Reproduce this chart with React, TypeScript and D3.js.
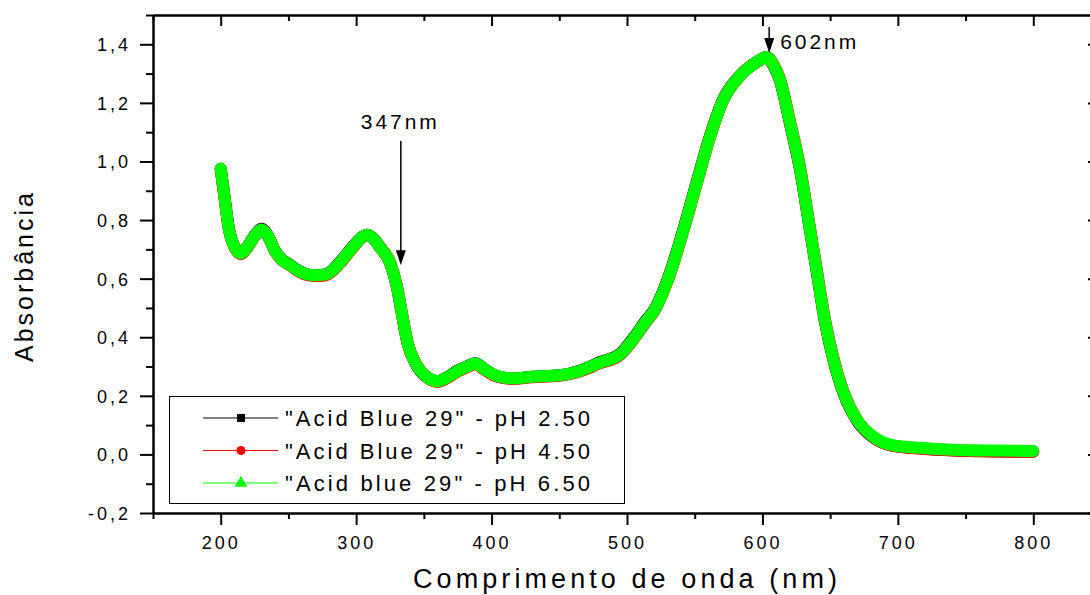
import React, { useEffect, useRef } from "react";
import * as d3 from "d3";

// comprimento de onda (nm)
const wavelengths = [
  200, 203, 206, 210, 215, 220, 225, 230, 235, 240, 245, 250, 258, 265, 270, 277, 283, 290, 298, 304,
  308, 312, 318, 325, 330, 334, 338, 344, 352, 360, 368, 375, 382, 388, 395, 404, 416, 430, 450, 465,
  480, 495, 504, 515, 519, 532, 541, 552, 561, 571, 583, 596, 603, 608, 613, 620, 628, 634, 640, 646,
  652, 660, 670, 682, 696, 718, 740, 770, 800,
];

// pH 2.50
const absBlack = [
  0.975, 0.872, 0.772, 0.711, 0.687, 0.711, 0.747, 0.77, 0.746, 0.696, 0.666, 0.651, 0.626, 0.614, 0.612, 0.614, 0.631, 0.667, 0.712, 0.741,
  0.75, 0.74, 0.705, 0.654, 0.573, 0.473, 0.378, 0.309, 0.264, 0.25, 0.266, 0.286, 0.301, 0.311, 0.29, 0.267, 0.259, 0.265, 0.27, 0.286,
  0.315, 0.344, 0.393, 0.463, 0.486, 0.624, 0.759, 0.939, 1.083, 1.212, 1.291, 1.34, 1.356, 1.328, 1.275, 1.136, 0.966, 0.796, 0.626, 0.456,
  0.33, 0.207, 0.114, 0.057, 0.03, 0.02, 0.014, 0.011, 0.01,
];

// pH 4.50
const absRed = [
  0.974, 0.869, 0.769, 0.709, 0.684, 0.708, 0.744, 0.767, 0.744, 0.694, 0.664, 0.649, 0.623, 0.611, 0.609, 0.611, 0.628, 0.663, 0.708, 0.739,
  0.749, 0.74, 0.705, 0.656, 0.577, 0.477, 0.382, 0.311, 0.264, 0.247, 0.263, 0.283, 0.298, 0.308, 0.288, 0.266, 0.258, 0.263, 0.268, 0.283,
  0.311, 0.34, 0.388, 0.458, 0.481, 0.618, 0.753, 0.933, 1.079, 1.209, 1.29, 1.34, 1.357, 1.332, 1.281, 1.144, 0.975, 0.805, 0.635, 0.465,
  0.336, 0.212, 0.117, 0.059, 0.03, 0.019, 0.013, 0.01, 0.009,
];

// pH 6.50
const absGreen = [
  0.975, 0.87, 0.77, 0.71, 0.686, 0.71, 0.745, 0.768, 0.745, 0.695, 0.665, 0.65, 0.625, 0.614, 0.612, 0.614, 0.63, 0.665, 0.71, 0.74,
  0.75, 0.74, 0.705, 0.655, 0.575, 0.475, 0.38, 0.31, 0.265, 0.25, 0.265, 0.285, 0.3, 0.31, 0.29, 0.268, 0.26, 0.265, 0.27, 0.285,
  0.313, 0.342, 0.39, 0.46, 0.483, 0.62, 0.755, 0.935, 1.08, 1.21, 1.29, 1.34, 1.357, 1.33, 1.278, 1.14, 0.97, 0.8, 0.63, 0.46,
  0.333, 0.21, 0.117, 0.06, 0.032, 0.022, 0.016, 0.013, 0.012,
];

const seriesNames = ['"Acid Blue 29" - pH 2.50', '"Acid Blue 29" - pH 4.50', '"Acid blue 29" - pH 6.50'];
const seriesColors = ["#000000", "#ff0000", "#00ff00"];
const seriesSymbols = [d3.symbolSquare, d3.symbolCircle, d3.symbolTriangle];

const xMajor = [200, 300, 400, 500, 600, 700, 800];
const xMinor = [150, 250, 350, 450, 550, 650, 750, 850];
const yMajor = [-0.2, 0, 0.2, 0.4, 0.6, 0.8, 1.0, 1.2, 1.4];
const yMinor = [-0.1, 0.1, 0.3, 0.5, 0.7, 0.9, 1.1, 1.3, 1.5];

// anotações: comprimento de onda da seta, topo, ponta, texto
const arrows = [
  { wl: 333, top: 1.07, tip: 0.646, label: "347nm" },
  { wl: 605, top: 1.459, tip: 1.37, label: "602nm" },
];

const W = 1090;
const H = 595;
const FONT = "'Liberation Sans', Arial, Helvetica, sans-serif";

const App = () => {
  const ref = useRef<SVGSVGElement>(null);

  useEffect(() => {
    const svg = d3.select(ref.current);
    svg.selectAll("*").remove();

    const x = d3.scaleLinear().domain([150, 850]).range([153, 1101]);
    const y = d3.scaleLinear().domain([-0.2, 1.5]).range([513, 15]);
    const loc = d3.formatLocale({ decimal: ",", thousands: ".", grouping: [3], currency: ["", ""], minus: "-" });
    const fy = loc.format(".1f");

    const styleAxis = (g, labels) => {
      g.select(".domain").attr("stroke", "#000").attr("stroke-width", 2);
      g.selectAll(".tick line").attr("stroke", "#000").attr("stroke-width", 2);
      if (labels) {
        g.selectAll(".tick text")
          .attr("fill", "#000")
          .style("font-family", FONT)
          .style("font-size", "18px")
          .style("letter-spacing", "3px");
      } else {
        g.selectAll(".tick text").remove();
      }
    };

    // eixos
    const bottom = svg.append("g").attr("transform", "translate(0,513)");
    bottom.call(d3.axisBottom(x).tickValues(xMajor).tickSize(12).tickSizeOuter(0).tickPadding(11).tickFormat(d3.format("d")));
    styleAxis(bottom, true);
    const bottomMinor = svg.append("g").attr("transform", "translate(0,513)");
    bottomMinor.call(d3.axisBottom(x).tickValues(xMinor).tickSize(6).tickSizeOuter(0).tickFormat(() => ""));
    styleAxis(bottomMinor, false);

    const top = svg.append("g").attr("transform", "translate(0,15)");
    top.call(d3.axisTop(x).tickValues(xMajor).tickSize(-11).tickSizeOuter(0).tickFormat(() => ""));
    styleAxis(top, false);
    const topMinor = svg.append("g").attr("transform", "translate(0,15)");
    topMinor.call(d3.axisTop(x).tickValues(xMinor).tickSize(-6).tickSizeOuter(0).tickFormat(() => ""));
    styleAxis(topMinor, false);

    const left = svg.append("g").attr("transform", "translate(153,0)");
    left.call(d3.axisLeft(y).tickValues(yMajor).tickSize(13).tickSizeOuter(0).tickPadding(9).tickFormat((d) => fy(d)));
    styleAxis(left, true);
    left.selectAll(".tick text").attr("dy", "0.36em");
    const leftMinor = svg.append("g").attr("transform", "translate(153,0)");
    leftMinor.call(d3.axisLeft(y).tickValues(yMinor).tickSize(7).tickSizeOuter(0).tickFormat(() => ""));
    styleAxis(leftMinor, false);

    const right = svg.append("g").attr("transform", "translate(1101,0)");
    right.call(d3.axisRight(y).tickValues(yMajor).tickSize(-13).tickSizeOuter(0).tickFormat(() => ""));
    styleAxis(right, false);
    const rightMinor = svg.append("g").attr("transform", "translate(1101,0)");
    rightMinor.call(d3.axisRight(y).tickValues(yMinor).tickSize(-7).tickSizeOuter(0).tickFormat(() => ""));
    styleAxis(rightMinor, false);

    // curvas
    const allSeries = [absBlack, absRed, absGreen];
    const widths = [12, 12, 12];
    allSeries.forEach((vals, i) => {
      const line = d3
        .line<number>()
        .x((_, j) => x(wavelengths[j]))
        .y((d) => y(d))
        .curve(d3.curveMonotoneX);
      svg.append("path")
        .datum(vals)
        .attr("d", line)
        .attr("fill", "none")
        .attr("stroke", seriesColors[i])
        .attr("stroke-width", widths[i])
        .attr("stroke-linejoin", "round")
        .attr("stroke-linecap", "round");
    });

    // setas
    arrows.forEach((a, i) => {
      const ax = x(a.wl);
      const yTop = y(a.top);
      const yTip = y(a.tip);
      svg.append("line")
        .attr("x1", ax).attr("x2", ax)
        .attr("y1", yTop).attr("y2", yTip - 12)
        .attr("stroke", "#000").attr("stroke-width", 1.5);
      svg.append("path")
        .attr("d", `M${ax - 5},${yTip - 15}L${ax + 5},${yTip - 15}L${ax},${yTip}Z`)
        .attr("fill", "#000");
      const t = svg.append("text")
        .attr("fill", "#000")
        .style("font-family", FONT)
        .style("font-size", "21px")
        .attr("textLength", 76)
        .attr("lengthAdjust", "spacing")
        .text(a.label);
      if (i === 0) t.attr("x", ax - 40).attr("y", yTop - 12);
      else t.attr("x", ax + 11).attr("y", yTop + 22);
    });

    // legenda
    const lg = svg.append("g");
    lg.append("rect")
      .attr("x", 169.5).attr("y", 396.5)
      .attr("width", 455).attr("height", 107)
      .attr("fill", "#fff").attr("stroke", "#000").attr("stroke-width", 1);
    seriesNames.forEach((name, i) => {
      const cy = 418 + i * 32.5;
      lg.append("line")
        .attr("x1", 203).attr("x2", 278)
        .attr("y1", cy).attr("y2", cy)
        .attr("stroke", seriesColors[i]).attr("stroke-width", 1);
      lg.append("path")
        .attr("transform", `translate(241,${cy})`)
        .attr("d", d3.symbol().type(seriesSymbols[i]).size(i === 2 ? 70 : 64)())
        .attr("fill", seriesColors[i]);
      lg.append("text")
        .attr("x", 285).attr("y", cy + 8)
        .attr("fill", "#000")
        .style("font-family", FONT)
        .style("font-size", "22px")
        .attr("textLength", 305)
        .attr("lengthAdjust", "spacing")
        .text(name);
    });

    // títulos dos eixos
    svg.append("text")
      .attr("x", 413).attr("y", 588)
      .attr("fill", "#000")
      .style("font-family", FONT)
      .style("font-size", "27px")
      .attr("textLength", 424)
      .attr("lengthAdjust", "spacing")
      .text("Comprimento de onda (nm)");

    svg.append("text")
      .attr("transform", "translate(33,362) rotate(-90)")
      .attr("fill", "#000")
      .style("font-family", FONT)
      .style("font-size", "25px")
      .attr("textLength", 169)
      .attr("lengthAdjust", "spacing")
      .text("Absorbância");
  }, []);

  return (
    <svg
      ref={ref}
      width={W}
      height={H}
      style={{ position: "absolute", left: 0, top: 0, background: "#fff" }}
    />
  );
};

export default App;
